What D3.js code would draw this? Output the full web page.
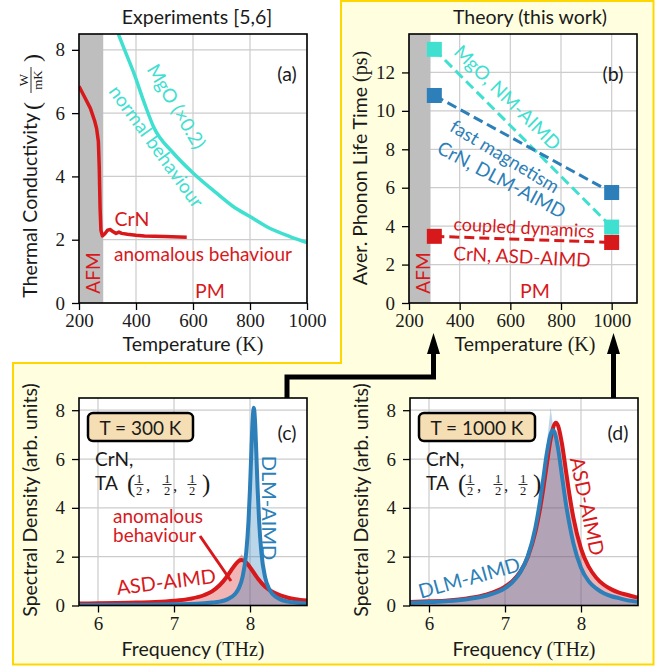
<!DOCTYPE html>
<html>
<head>
<meta charset="utf-8">
<script src="https://cdn.jsdelivr.net/npm/d3@7"></script>
<style>
  html, body { margin: 0; padding: 0; background: #fff; }
</style>
</head>
<body>
<div id="wrapper"></div>
<script>
// ---- data ----
// (a) experiments
const tempCrN  = [200, 220, 240, 255, 262, 268, 271, 274, 277, 282, 290, 300, 310, 320, 330, 340, 350, 370, 400, 430, 500, 578];
const kappaCrN = [6.85, 6.5, 6.15, 5.75, 5.5, 5.1, 4.3, 3.0, 2.3, 2.12, 2.18, 2.3, 2.32, 2.25, 2.2, 2.24, 2.2, 2.17, 2.14, 2.12, 2.1, 2.08];
const tempMgO  = [338, 360, 391, 430, 461, 531, 601, 683, 741, 800, 859, 940, 1000];
const kappaMgO = [8.5, 8.0, 7.3, 6.3, 5.58, 4.74, 4.1, 3.47, 3.05, 2.73, 2.41, 2.1, 1.91];

// (b) theory
const tempTheory = [300, 1000];
const tauMgO = [13.2, 3.95];
const tauDLM = [10.8, 5.75];
const tauASD = [3.47, 3.15];

// (c) T = 300 K
const freqAsdC = [5.75, 6.0, 6.25, 6.5, 6.75, 7.0, 7.2, 7.4, 7.5, 7.6, 7.7, 7.75, 7.8, 7.85, 7.89, 7.95, 8.0, 8.1, 8.2, 8.3, 8.4, 8.5, 8.6, 8.75];
const asdC     = [0.08, 0.09, 0.10, 0.12, 0.14, 0.19, 0.27, 0.43, 0.58, 0.83, 1.20, 1.43, 1.65, 1.82, 1.86, 1.76, 1.57, 1.12, 0.77, 0.55, 0.41, 0.32, 0.26, 0.20];
const asdHistC = [0.06, 0.07, 0.08, 0.10, 0.12, 0.17, 0.26, 0.50, 0.62, 0.90, 1.30, 1.50, 1.72, 1.95, 2.10, 1.85, 1.50, 1.00, 0.70, 0.50, 0.38, 0.30, 0.24, 0.18];
const freqDlmC = [5.75, 6.5, 7.0, 7.3, 7.5, 7.6, 7.7, 7.8, 7.85, 7.9, 7.95, 7.98, 8.0, 8.02, 8.035, 8.05, 8.065, 8.08, 8.1, 8.12, 8.15, 8.2, 8.25, 8.3, 8.4, 8.5, 8.6, 8.75];
const dlmC     = [0.02, 0.03, 0.05, 0.07, 0.12, 0.16, 0.25, 0.46, 0.69, 1.14, 2.16, 3.45, 4.80, 6.50, 7.62, 8.10, 7.62, 6.50, 4.80, 3.45, 2.16, 1.14, 0.69, 0.46, 0.25, 0.16, 0.12, 0.08];
const dlmHistC = [0.02, 0.03, 0.05, 0.08, 0.13, 0.18, 0.27, 0.50, 0.75, 1.20, 2.20, 3.40, 4.70, 6.30, 7.40, 7.90, 7.40, 6.30, 4.60, 3.30, 2.10, 1.10, 0.65, 0.44, 0.24, 0.15, 0.11, 0.07];

// (d) T = 1000 K
const freqAsdD = [5.75, 6.0, 6.25, 6.5, 6.75, 7.0, 7.1, 7.2, 7.3, 7.4, 7.45, 7.5, 7.55, 7.6, 7.64, 7.67, 7.7, 7.75, 7.8, 7.85, 7.9, 8.0, 8.1, 8.2, 8.3, 8.4, 8.5, 8.6, 8.75];
const asdD     = [0.14, 0.17, 0.21, 0.29, 0.44, 0.77, 1.01, 1.38, 1.99, 3.02, 3.77, 4.70, 5.78, 6.80, 7.35, 7.49, 7.35, 6.62, 5.56, 4.50, 3.60, 2.33, 1.59, 1.14, 0.85, 0.66, 0.53, 0.44, 0.32];
const asdHistD = [0.20, 0.18, 0.26, 0.30, 0.50, 0.80, 1.10, 1.50, 2.00, 3.10, 3.90, 4.80, 5.90, 6.70, 7.30, 7.20, 7.10, 6.40, 5.30, 4.30, 3.40, 2.20, 1.40, 1.00, 0.80, 0.62, 0.50, 0.40, 0.30];
const freqDlmD = [5.75, 6.0, 6.25, 6.5, 6.75, 7.0, 7.1, 7.2, 7.3, 7.4, 7.45, 7.5, 7.55, 7.6, 7.63, 7.66, 7.7, 7.75, 7.8, 7.85, 7.9, 8.0, 8.1, 8.2, 8.3, 8.4, 8.5, 8.6, 8.75];
const dlmD     = [0.11, 0.14, 0.18, 0.26, 0.40, 0.71, 0.96, 1.35, 2.02, 3.19, 4.06, 5.12, 6.23, 7.02, 7.18, 7.02, 6.40, 5.30, 4.20, 3.30, 2.55, 1.55, 1.00, 0.70, 0.50, 0.38, 0.30, 0.22, 0.15];
const dlmHistD = [0.10, 0.13, 0.17, 0.25, 0.42, 0.75, 0.90, 1.30, 2.10, 3.30, 4.20, 5.40, 6.60, 8.10, 7.40, 7.00, 6.30, 5.20, 4.10, 3.20, 2.50, 1.50, 0.95, 0.68, 0.48, 0.36, 0.28, 0.20, 0.14];

// ticks
const tempTicks = [200, 400, 600, 800, 1000];
const kappaTicks = [0, 2, 4, 6, 8];
const tauTicks = [0, 2, 4, 6, 8, 10, 12];
const freqTicks = [6, 7, 8];
const densTicks = [0, 2, 4, 6, 8];
const afmTemp = 285;

const SANS = "Lato, DejaVu Sans, sans-serif";
const SERIF = "Liberation Serif, DejaVu Serif, serif";
const RED = "#d7191c", BLUE = "#2c7fb8", CYAN = "#40e0d0";
const INK = "#1a1a1a";

const svg = d3.select("#wrapper").append("svg")
  .attr("width", 667).attr("height", 667)
  .attr("viewBox", "0 0 667 667");

svg.append("rect").attr("width", 667).attr("height", 667).attr("fill", "#fff");

// yellow "theory" region
svg.append("path")
  .attr("d", "M341,1 H653.5 V664.5 H13 V363 H341 Z")
  .attr("fill", "#ffffe0")
  .attr("stroke", "#ffd700")
  .attr("stroke-width", 2);

let clipId = 0;
function makePanel(p) {
  const g = svg.append("g").attr("transform", "translate(" + p.left + "," + p.top + ")");
  const x = d3.scaleLinear().domain(p.xDomain).range([0, p.width]);
  const y = d3.scaleLinear().domain(p.yDomain).range([p.height, 0]);
  g.append("rect").attr("width", p.width).attr("height", p.height).attr("fill", "#fff");
  g.append("g").selectAll("line").data(p.xTicks).join("line")
    .attr("x1", d => x(d)).attr("x2", d => x(d))
    .attr("y1", 0).attr("y2", p.height)
    .attr("stroke", "#cccccc").attr("stroke-width", 1.2);
  g.append("g").selectAll("line").data(p.yTicks).join("line")
    .attr("y1", d => y(d)).attr("y2", d => y(d))
    .attr("x1", 0).attr("x2", p.width)
    .attr("stroke", "#cccccc").attr("stroke-width", 1.2);
  const id = "clip" + (clipId++);
  g.append("clipPath").attr("id", id).append("rect")
    .attr("width", p.width).attr("height", p.height);
  const data = g.append("g").attr("clip-path", "url(#" + id + ")");
  return { g, data, x, y, p };
}

function finishPanel(panel) {
  const { g, x, y, p } = panel;
  g.append("rect").attr("width", p.width).attr("height", p.height)
    .attr("fill", "none").attr("stroke", "#000").attr("stroke-width", 1.6);
  const xa = g.append("g").attr("transform", "translate(0," + p.height + ")")
    .call(d3.axisBottom(x).tickValues(p.xTicks).tickSize(7).tickPadding(4).tickFormat(d3.format("d")));
  const ya = g.append("g")
    .call(d3.axisLeft(y).tickValues(p.yTicks).tickSize(7).tickPadding(7).tickFormat(d3.format("d")));
  [xa, ya].forEach(a => {
    a.attr("font-family", null).attr("font-size", null);
    a.select(".domain").remove();
    a.selectAll("line").attr("stroke", "#000").attr("stroke-width", 1.3);
    a.selectAll("text").style("font-family", SERIF).style("font-size", "19px").attr("fill", INK);
  });
}

function label(txt, cx, cy, opt) {
  opt = opt || {};
  return svg.append("text")
    .attr("transform", "translate(" + cx + "," + cy + ") rotate(" + (opt.rot || 0) + ")")
    .attr("text-anchor", opt.anchor || "middle")
    .attr("dominant-baseline", opt.base || "central")
    .style("font-family", opt.font || SANS)
    .style("font-size", (opt.size || 18.5) + "px")
    .attr("fill", opt.color || INK)
    .text(txt);
}

function xLabel(cx, baseY, main, unit) {
  const t = svg.append("text").attr("x", cx).attr("y", baseY)
    .attr("text-anchor", "middle").style("font-family", SANS).style("font-size", "19.5px").attr("fill", INK);
  t.append("tspan").text(main);
  t.append("tspan").style("font-family", SERIF).style("font-size", "20px").text(unit);
}

function yLabel(bx, cy, main, unit) {
  const t = svg.append("text").attr("transform", "translate(" + bx + "," + cy + ") rotate(-90)")
    .attr("text-anchor", "middle").style("font-family", SANS).style("font-size", "19.5px").attr("fill", INK);
  t.append("tspan").text(main);
  if (unit) t.append("tspan").style("font-family", SERIF).style("font-size", "20px").text(unit);
}

function afmBand(panel) {
  panel.data.append("rect")
    .attr("x", 0).attr("y", 0)
    .attr("width", panel.x(afmTemp) - panel.x(panel.p.xDomain[0]))
    .attr("height", panel.p.height)
    .attr("fill", "#bebebe");
}

// ---------------- (a) ----------------
const pa = makePanel({ left: 79, top: 34, width: 228, height: 269,
  xDomain: [200, 1000], yDomain: [0, 8.5], xTicks: tempTicks, yTicks: kappaTicks });
afmBand(pa);
const lineA = d3.line().x(d => pa.x(d[0])).y(d => pa.y(d[1]));
pa.data.append("path")
  .attr("d", lineA.curve(d3.curveMonotoneX)(d3.zip(tempMgO, kappaMgO)))
  .attr("fill", "none").attr("stroke", CYAN).attr("stroke-width", 3.5);
pa.data.append("path")
  .attr("d", lineA.curve(d3.curveLinear)(d3.zip(tempCrN, kappaCrN)))
  .attr("fill", "none").attr("stroke", RED).attr("stroke-width", 3.5).attr("stroke-linejoin", "round");
finishPanel(pa);

label("Experiments [5,6]", 197, 16, { size: 19.5 });
label("(a)", 287, 73, { size: 19.5 });
label("MgO (\u00d70.2)", 177, 106, { rot: 59, color: CYAN, size: 19 });
label("normal behaviour", 157, 146, { rot: 54, color: CYAN, size: 19 });
label("CrN", 132, 218, { color: RED, size: 19.5 });
label("anomalous behaviour", 203, 253, { color: RED, size: 19 });
label("AFM", 92, 273, { rot: -90, color: RED, size: 19 });
label("PM", 210, 290, { color: RED, size: 19.5 });
xLabel(193, 351, "Temperature ", "(K)");

// y label with fraction W / mK
{
  const gy = svg.append("g").attr("transform", "translate(37,168) rotate(-90)");
  gy.append("text").attr("x", 55).attr("y", 0).attr("text-anchor", "end")
    .style("font-family", SANS).style("font-size", "19.5px").attr("fill", INK).text("Thermal Conductivity");
  gy.append("text").attr("x", 58).attr("y", 3).style("font-family", SERIF).style("font-size", "24px").attr("fill", INK).text("(");
  gy.append("text").attr("x", 88).attr("y", -9).attr("text-anchor", "middle").style("font-family", SERIF).style("font-size", "13px").attr("fill", INK).text("W");
  gy.append("line").attr("x1", 75).attr("x2", 101).attr("y1", -6).attr("y2", -6).attr("stroke", INK).attr("stroke-width", 0.9);
  gy.append("text").attr("x", 88).attr("y", 5).attr("text-anchor", "middle").style("font-family", SERIF).style("font-size", "13px").attr("fill", INK).text("mK");
  gy.append("text").attr("x", 106).attr("y", 3).style("font-family", SERIF).style("font-size", "24px").attr("fill", INK).text(")");
}

// ---------------- (b) ----------------
const pb = makePanel({ left: 409, top: 34, width: 228, height: 269,
  xDomain: [200, 1100], yDomain: [0, 14], xTicks: tempTicks, yTicks: tauTicks });
afmBand(pb);
const lineB = d3.line().x(d => pb.x(d[0])).y(d => pb.y(d[1]));
[[tauMgO, CYAN], [tauDLM, BLUE], [tauASD, RED]].forEach(([vals, col]) => {
  pb.data.append("path").attr("d", lineB(d3.zip(tempTheory, vals)))
    .attr("fill", "none").attr("stroke", col).attr("stroke-width", 3)
    .attr("stroke-dasharray", "10,5");
});
finishPanel(pb);
[[tauMgO, CYAN], [tauDLM, BLUE], [tauASD, RED]].forEach(([vals, col]) => {
  pb.g.append("g").selectAll("rect").data(d3.zip(tempTheory, vals)).join("rect")
    .attr("x", d => pb.x(d[0]) - 7.5).attr("y", d => pb.y(d[1]) - 7.5)
    .attr("width", 15).attr("height", 15).attr("fill", col);
});

label("Theory (this work)", 530, 16, { size: 19.5 });
label("(b)", 613, 73, { size: 19.5 });
label("MgO, NM-AIMD", 508, 97, { rot: 44.5, color: CYAN, size: 19 });
label("fast magnetism", 505, 156, { rot: 31, color: BLUE, size: 18.5 });
label("CrN, DLM-AIMD", 502, 179, { rot: 28, color: BLUE, size: 19 });
label("coupled dynamics", 524, 227, { rot: 3, color: RED, size: 18 });
label("CrN, ASD-AIMD", 522, 256, { rot: 3, color: RED, size: 19 });
label("AFM", 422, 273, { rot: -90, color: RED, size: 19 });
label("PM", 535, 290, { color: RED, size: 19.5 });
xLabel(525, 351, "Temperature ", "(K)");
yLabel(367, 168, "Aver. Phonon Life Time ", "(ps)");

// connectors with arrows
svg.append("path").attr("d", "M287,398 V377 H433.5 V350").attr("fill", "none")
  .attr("stroke", "#000").attr("stroke-width", 5).attr("stroke-linejoin", "miter");
svg.append("path").attr("d", "M613.5,398 V350").attr("fill", "none")
  .attr("stroke", "#000").attr("stroke-width", 5);
[433.5, 613.5].forEach(ax => {
  svg.append("path").attr("d", "M" + ax + ",333 L" + (ax - 6.5) + ",354 L" + (ax + 6.5) + ",354 Z").attr("fill", "#000");
});

// ---------------- (c), (d) ----------------
function spectrumPanel(left, asd, dlm, tLabel, tag, boxW) {
  const pc = makePanel({ left: left, top: 398, width: 228, height: 207.5,
    xDomain: [5.75, 8.75], yDomain: [0, 8.5], xTicks: freqTicks, yTicks: densTicks });
  const area = d3.area().x(d => pc.x(d[0])).y0(pc.y(0)).y1(d => pc.y(d[1]));
  const line = d3.line().x(d => pc.x(d[0])).y(d => pc.y(d[1])).curve(d3.curveMonotoneX);
  pc.data.append("path").attr("d", area(d3.zip(asd.f, asd.hist))).attr("fill", RED).attr("fill-opacity", 0.32);
  pc.data.append("path").attr("d", area(d3.zip(dlm.f, dlm.hist))).attr("fill", BLUE).attr("fill-opacity", 0.32);
  [asd, dlm].forEach(s => {
    pc.data.append("path").attr("d", line(d3.zip(s.f, s.v)))
      .attr("fill", "none").attr("stroke", s.color).attr("stroke-width", 4);
  });
  finishPanel(pc);
  const ox = left - 79;
  svg.append("rect").attr("x", 88 + ox).attr("y", 413).attr("width", boxW).attr("height", 28)
    .attr("rx", 5).attr("fill", "#f5deb3").attr("stroke", "#000").attr("stroke-width", 2.5);
  label(tLabel, 88 + ox + boxW / 2, 427.5, { size: 19 });
  label(tag, 287 + ox, 432, { size: 19.5 });
  label("CrN,", 95 + ox, 466, { anchor: "start", base: "auto", size: 19 });
  label("TA", 95 + ox, 490, { anchor: "start", base: "auto", size: 19 });
  const bx = 95 + ox;
  label("(", bx + 32, 492, { anchor: "start", base: "auto", font: SERIF, size: 25 });
  label(")", bx + 107, 492, { anchor: "start", base: "auto", font: SERIF, size: 25 });
  [44, 72, 97].forEach(dx => {
    label("1", bx + dx, 482.5, { base: "auto", font: SERIF, size: 12.5 });
    label("2", bx + dx, 494.5, { base: "auto", font: SERIF, size: 12.5 });
    svg.append("line").attr("x1", bx + dx - 4.5).attr("x2", bx + dx + 4.5).attr("y1", 484.5).attr("y2", 484.5)
      .attr("stroke", INK).attr("stroke-width", 0.9);
  });
  [53, 80].forEach(dx => label(",", bx + dx, 491, { base: "auto", font: SERIF, size: 17 }));
  xLabel(left + 114, 656, "Frequency ", "(THz)");
  yLabel(left - 42, 500, "Spectral Density (arb. units)");
}

spectrumPanel(79,
  { f: freqAsdC, v: asdC, hist: asdHistC, color: RED },
  { f: freqDlmC, v: dlmC, hist: dlmHistC, color: BLUE },
  "T = 300 K", "(c)", 105);
spectrumPanel(410,
  { f: freqAsdD, v: asdD, hist: asdHistD, color: RED },
  { f: freqDlmD, v: dlmD, hist: dlmHistD, color: BLUE },
  "T = 1000 K", "(d)", 116);

// annotations (c)
label("anomalous", 113, 523, { anchor: "start", base: "auto", color: RED, size: 19 });
label("behaviour", 113, 542, { anchor: "start", base: "auto", color: RED, size: 19 });
svg.append("line").attr("x1", 200).attr("y1", 536).attr("x2", 231).attr("y2", 581)
  .attr("stroke", RED).attr("stroke-width", 3);
label("ASD-AIMD", 166, 581, { rot: -7, color: RED, size: 20 });
label("DLM-AIMD", 270, 508, { rot: 90, color: BLUE, size: 20 });
// annotations (d)
label("ASD-AIMD", 588, 506, { rot: 78, color: RED, size: 20 });
label("DLM-AIMD", 469, 577, { rot: -15.5, color: BLUE, size: 20 });
</script>
</body>
</html>
